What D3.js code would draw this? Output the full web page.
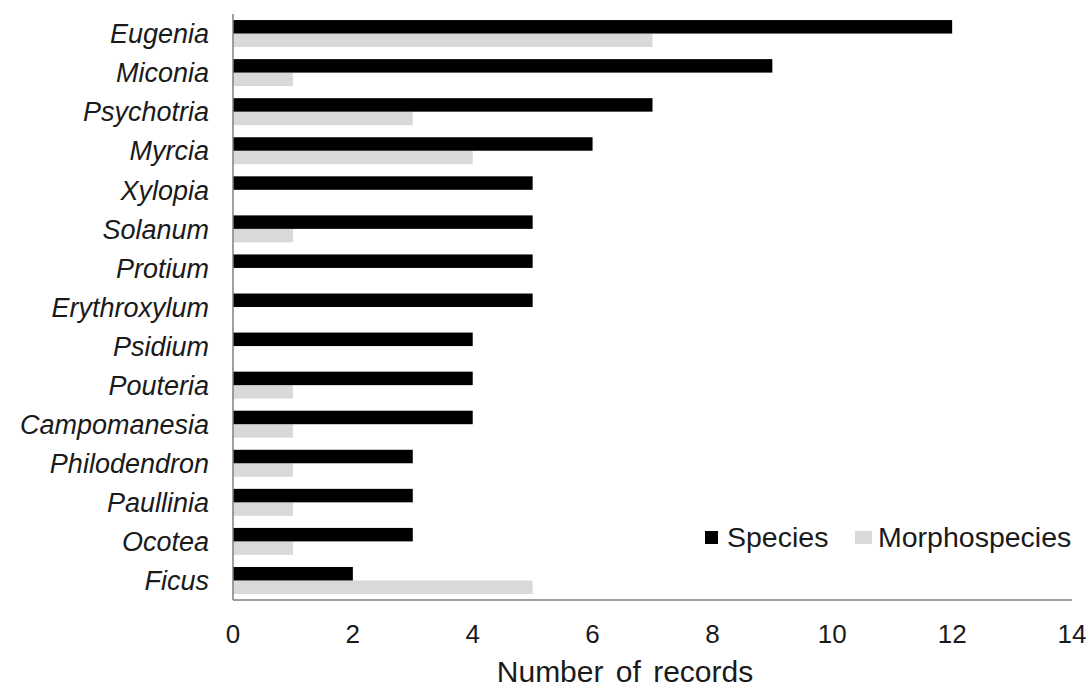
<!DOCTYPE html>
<html><head><meta charset="utf-8">
<script src="https://cdn.jsdelivr.net/npm/d3@7"></script>
<style>body{margin:0;background:#fff;} text{font-family:"Liberation Sans",Arial,sans-serif;}</style>
</head><body>
<svg id="c" width="1092" height="689"></svg>
<script>
const genera = ["Eugenia","Miconia","Psychotria","Myrcia","Xylopia","Solanum","Protium","Erythroxylum","Psidium","Pouteria","Campomanesia","Philodendron","Paullinia","Ocotea","Ficus"];
const species = [12,9,7,6,5,5,5,5,4,4,4,3,3,3,2];
const morphospecies = [7,1,3,4,0,1,0,0,0,1,1,1,1,1,5];
const seriesNames = ["Species","Morphospecies"];
const seriesColors = ["#000000","#d9d9d9"];
const xTicks = [0,2,4,6,8,10,12,14];

const svg = d3.select("#c");
const m = {l:233, r:1072, t:14, b:600};
const x = d3.scaleLinear().domain([0,14]).range([m.l, m.r]);
const y = d3.scaleBand().domain(genera).range([m.t, m.b]).paddingInner(0.31).paddingOuter(0.155);
const ys = d3.scaleBand().domain(seriesNames).range([0, y.bandwidth()]);

const data = genera.map((g,i)=>({g, vals:[species[i], morphospecies[i]]}));
const grp = svg.append("g").selectAll("g").data(data).join("g")
  .attr("transform", d=>`translate(0,${y(d.g)})`);
grp.selectAll("rect").data(d=>d.vals.map((v,j)=>({v,j})).reverse()).join("rect")
  .attr("x", x(0))
  .attr("y", d=>ys(seriesNames[d.j]))
  .attr("width", d=>x(d.v)-x(0))
  .attr("height", ys.bandwidth())
  .attr("fill", d=>seriesColors[d.j]);

// axes
svg.append("line").attr("x1",m.l).attr("x2",m.l).attr("y1",m.t).attr("y2",m.b).attr("stroke","#7f7f7f").attr("stroke-width",1.5);
svg.append("line").attr("x1",m.l).attr("x2",m.r).attr("y1",m.b).attr("y2",m.b).attr("stroke","#7f7f7f").attr("stroke-width",1.5);

// category labels
svg.append("g").selectAll("text").data(genera).join("text")
  .attr("x", 209).attr("y", d=>y(d)+y.bandwidth()/2)
  .attr("dy","0.36em").attr("text-anchor","end")
  .attr("font-size",27).attr("font-style","italic").attr("fill","#1a1a1a")
  .text(d=>d);

// x tick labels
svg.append("g").selectAll("text").data(xTicks).join("text")
  .attr("x", d=>x(d)).attr("y", 643).attr("text-anchor","middle")
  .attr("font-size",26).attr("fill","#1a1a1a").text(d=>d);

svg.append("text").attr("x", 625).attr("y", 682).attr("text-anchor","middle")
  .attr("font-size",30).attr("word-spacing",4).attr("fill","#1a1a1a").text("Number of records");

// legend
const lg = svg.append("g");
const legendItems = [{x:705, tx:727},{x:855, tx:878}];
seriesNames.forEach((s,i)=>{
  lg.append("rect").attr("x",legendItems[i].x).attr("y",531).attr("width",i?17:13).attr("height",13).attr("fill",seriesColors[i]);
  lg.append("text").attr("x",legendItems[i].tx).attr("y",547).attr("font-size",28.5).attr("fill","#1a1a1a").text(s);
});
</script>
</body></html>
